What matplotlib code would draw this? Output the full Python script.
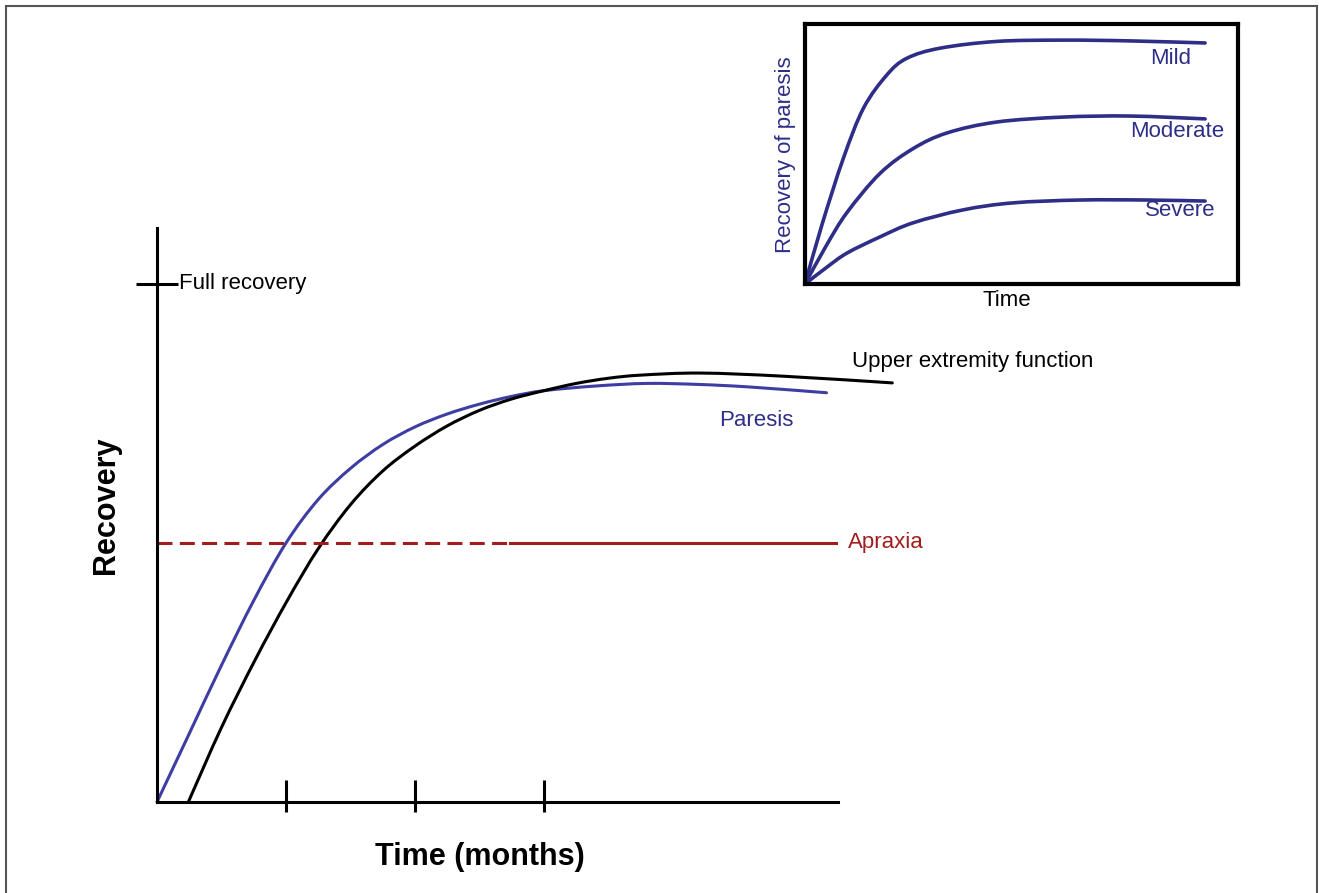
import matplotlib.pyplot as plt
from matplotlib.patches import Rectangle, PathPatch
from matplotlib.path import Path

plt.rcParams["font.family"] = ["Liberation Sans", "DejaVu Sans"]

# main chart, x in months (tick spacing), y in % of full recovery
paresis_x = [0, 0.25, 0.50, 0.75, 1.00, 1.25, 1.50, 1.75, 2.00, 2.25, 2.50, 2.75, 3.00, 3.40, 3.80, 4.20, 4.60, 5.19]
paresis_y = [0, 13.2, 26.4, 38.9, 50.0, 58.4, 64.4, 69.0, 72.4, 74.9, 76.8, 78.3, 79.4, 80.3, 80.8, 80.6, 80.1, 79.0]

upper_x = [0.243, 0.50, 0.76, 1.01, 1.25, 1.50, 1.75, 2.00, 2.25, 2.50, 2.75, 3.00, 3.25, 3.50, 3.75, 4.21, 4.85, 5.70]
upper_y = [0, 14.4, 27.4, 38.9, 48.9, 57.4, 63.9, 68.7, 72.6, 75.6, 77.8, 79.4, 80.8, 81.8, 82.4, 82.8, 82.2, 80.9]

apraxia_x = [0, 2.74, 5.26]
apraxia_level = 50
full_recovery = 100
month_ticks = [1, 2, 3]

# inset, arbitrary units
inset_x = {
    "Mild": [0, 0.39, 0.885, 1.35, 1.89, 2.35, 3.12, 4.43, 5.96, 7.51, 9.24],
    "Moderate": [0, 0.50, 0.97, 1.73, 2.49, 3.28, 4.43, 5.96, 7.51, 9.24],
    "Severe": [0, 0.50, 0.97, 1.73, 2.49, 3.65, 4.80, 6.35, 7.90, 9.24],
}
inset_y = {
    "Mild": [0, 2.27, 4.83, 6.76, 8.04, 8.68, 9.07, 9.33, 9.38, 9.35, 9.27],
    "Moderate": [0, 1.50, 2.75, 4.25, 5.20, 5.81, 6.23, 6.42, 6.46, 6.35],
    "Severe": [0, 0.64, 1.19, 1.81, 2.35, 2.85, 3.12, 3.23, 3.23, 3.19],
}
inset_label_pos = {"Mild": (8.45, 8.69), "Moderate": (8.59, 5.88), "Severe": (8.66, 2.81)}

W, H = 1319, 893
blue = "#3d3da3"
dark_blue = "#2e2e88"
red = "#a11d1d"


def smooth_path(xs, ys):
    # catmull-rom through the read points, as cubic bezier segments
    pts = list(zip(xs, ys))
    n = len(pts)
    verts = [pts[0]]
    codes = [Path.MOVETO]
    for i in range(n - 1):
        p0 = pts[max(i - 1, 0)]
        p1 = pts[i]
        p2 = pts[i + 1]
        p3 = pts[min(i + 2, n - 1)]
        c1 = (p1[0] + (p2[0] - p0[0]) / 6, p1[1] + (p2[1] - p0[1]) / 6)
        c2 = (p2[0] - (p3[0] - p1[0]) / 6, p2[1] - (p3[1] - p1[1]) / 6)
        verts += [c1, c2, p2]
        codes += [Path.CURVE4] * 3
    return Path(verts, codes)


def draw_curve(a, xs, ys, color, lw):
    a.add_patch(PathPatch(smooth_path(xs, ys), fill=False, edgecolor=color,
                          lw=lw, clip_on=False, capstyle="round"))


fig = plt.figure(figsize=(W / 100, H / 100), dpi=100)

ax = fig.add_axes([157 / W, (H - 802) / H, (838 - 157) / W, (802 - 228) / H])
ax.set_xlim(0, 5.279)
ax.set_ylim(0, 110.8)
for s in ["top", "right"]:
    ax.spines[s].set_visible(False)
for s in ["left", "bottom"]:
    ax.spines[s].set_linewidth(2.2)

draw_curve(ax, paresis_x, paresis_y, blue, 2.2)
draw_curve(ax, upper_x, upper_y, "black", 2.2)
ax.plot(apraxia_x[:2], [apraxia_level] * 2, color=red, lw=2.2, dashes=(4.9, 2.4))
ax.plot(apraxia_x[1:], [apraxia_level] * 2, color=red, lw=2.2)

ax.xaxis.remove_overlapping_locs = False
ax.set_xticks(month_ticks)
ax.set_xticks(month_ticks, minor=True)
ax.tick_params(axis="x", which="major", direction="in", length=15.8, width=2.2, labelbottom=False)
ax.tick_params(axis="x", which="minor", direction="out", length=7.2, width=2.2)
ax.set_yticks([full_recovery])
ax.tick_params(axis="y", direction="inout", length=30, width=2.2, labelleft=False)

ax.text(0.17, full_recovery, "Full recovery", fontsize=16, va="center", ha="left")
ax.text(5.39, 85.1, "Upper extremity function", fontsize=16, va="center", ha="left", clip_on=False)
ax.text(4.36, 73.6, "Paresis", fontsize=16, color=dark_blue, va="center", ha="left")
ax.text(5.36, apraxia_level, "Apraxia", fontsize=16, color=red, va="center", ha="left", clip_on=False)

fig.text(106 / W, 1 - 505 / H, "Recovery", fontsize=22, fontweight="bold", rotation=90, ha="center", va="center")
fig.text(480 / W, 1 - 857 / H, "Time (months)", fontsize=22, fontweight="bold", ha="center", va="center")

# inset
ins = fig.add_axes([805 / W, (H - 284) / H, (1238 - 805) / W, (284 - 24) / H])
ins.set_xlim(0, 10)
ins.set_ylim(0, 10)
ins.set_xticks([])
ins.set_yticks([])
for s in ins.spines.values():
    s.set_linewidth(3)
for name in ["Mild", "Moderate", "Severe"]:
    draw_curve(ins, inset_x[name], inset_y[name], dark_blue, 2.6)
    lx, ly = inset_label_pos[name]
    ins.text(lx, ly, name, fontsize=16, color=dark_blue, ha="center", va="center")
fig.text(1007 / W, 1 - 300 / H, "Time", fontsize=16, ha="center", va="center")
fig.text(786 / W, 1 - 155 / H, "Recovery of paresis", fontsize=16, color=dark_blue, rotation=90, ha="center", va="center")

fig.add_artist(Rectangle((6 / W, -0.02), (1317 - 6) / W, (H - 6) / H + 0.02,
                         transform=fig.transFigure, fill=False, edgecolor="#555555", lw=1.5))

fig.savefig("out.png", dpi=100)
